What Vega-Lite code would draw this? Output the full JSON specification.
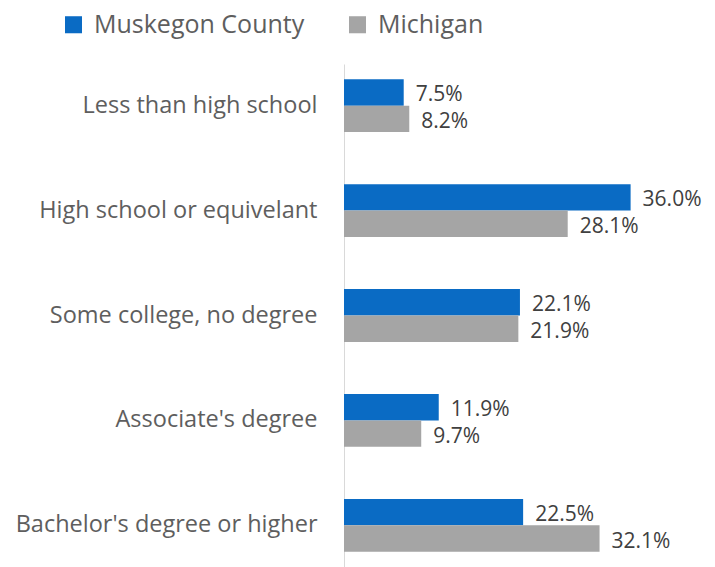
{
  "$schema": "https://vega.github.io/schema/vega-lite/v6.json",
  "width": 371,
  "height": 503,
  "autosize": "none",
  "padding": {"left": 344, "top": 64, "right": 0, "bottom": 0},
  "background": "white",
  "config": {"view": {"stroke": null}},
  "data": {
    "values": [
      {"category": "Less than high school", "series": "Muskegon County", "value": 0.075},
      {"category": "Less than high school", "series": "Michigan", "value": 0.082},
      {"category": "High school or equivelant", "series": "Muskegon County", "value": 0.360},
      {"category": "High school or equivelant", "series": "Michigan", "value": 0.281},
      {"category": "Some college, no degree", "series": "Muskegon County", "value": 0.221},
      {"category": "Some college, no degree", "series": "Michigan", "value": 0.219},
      {"category": "Associate's degree", "series": "Muskegon County", "value": 0.119},
      {"category": "Associate's degree", "series": "Michigan", "value": 0.097},
      {"category": "Bachelor's degree or higher", "series": "Muskegon County", "value": 0.225},
      {"category": "Bachelor's degree or higher", "series": "Michigan", "value": 0.321}
    ]
  },
  "encoding": {
    "y": {
      "field": "category",
      "type": "nominal",
      "sort": ["Less than high school", "High school or equivelant", "Some college, no degree", "Associate's degree", "Bachelor's degree or higher"],
      "scale": {"paddingInner": 0.496, "paddingOuter": 0.145},
      "axis": {
        "title": null,
        "ticks": false,
        "domainColor": "#D9D9D9",
        "labelColor": "#5E5E5E",
        "labelFontSize": 23.5,
        "labelFont": "Open Sans",
        "labelPadding": 27,
        "labelLimit": 400
      }
    },
    "yOffset": {
      "field": "series",
      "sort": ["Muskegon County", "Michigan"],
      "scale": {"paddingInner": 0, "paddingOuter": 0}
    },
    "x": {
      "field": "value",
      "type": "quantitative",
      "scale": {"domain": [0, 0.466]},
      "axis": null
    }
  },
  "layer": [
    {
      "mark": {"type": "bar"},
      "encoding": {
        "color": {
          "field": "series",
          "type": "nominal",
          "sort": ["Muskegon County", "Michigan"],
          "scale": {"domain": ["Muskegon County", "Michigan"], "range": ["#0A6BC4", "#A5A5A5"]},
          "legend": {
            "title": null,
            "orient": "none",
            "direction": "horizontal",
            "legendX": -283,
            "legendY": -52,
            "symbolType": "square",
            "symbolSize": 290,
            "symbolStrokeWidth": 0,
            "labelFontSize": 25,
            "labelFont": "Open Sans",
            "labelColor": "#5E5E5E",
            "labelLimit": 400,
            "columnPadding": 40,
            "labelOffset": 8
          }
        }
      }
    },
    {
      "mark": {"type": "text", "align": "left", "baseline": "middle", "dx": 12, "dy": 3, "fontSize": 21, "font": "Open Sans", "color": "#404040"},
      "encoding": {
        "text": {"field": "value", "type": "quantitative", "format": ".1%"}
      }
    }
  ]
}
